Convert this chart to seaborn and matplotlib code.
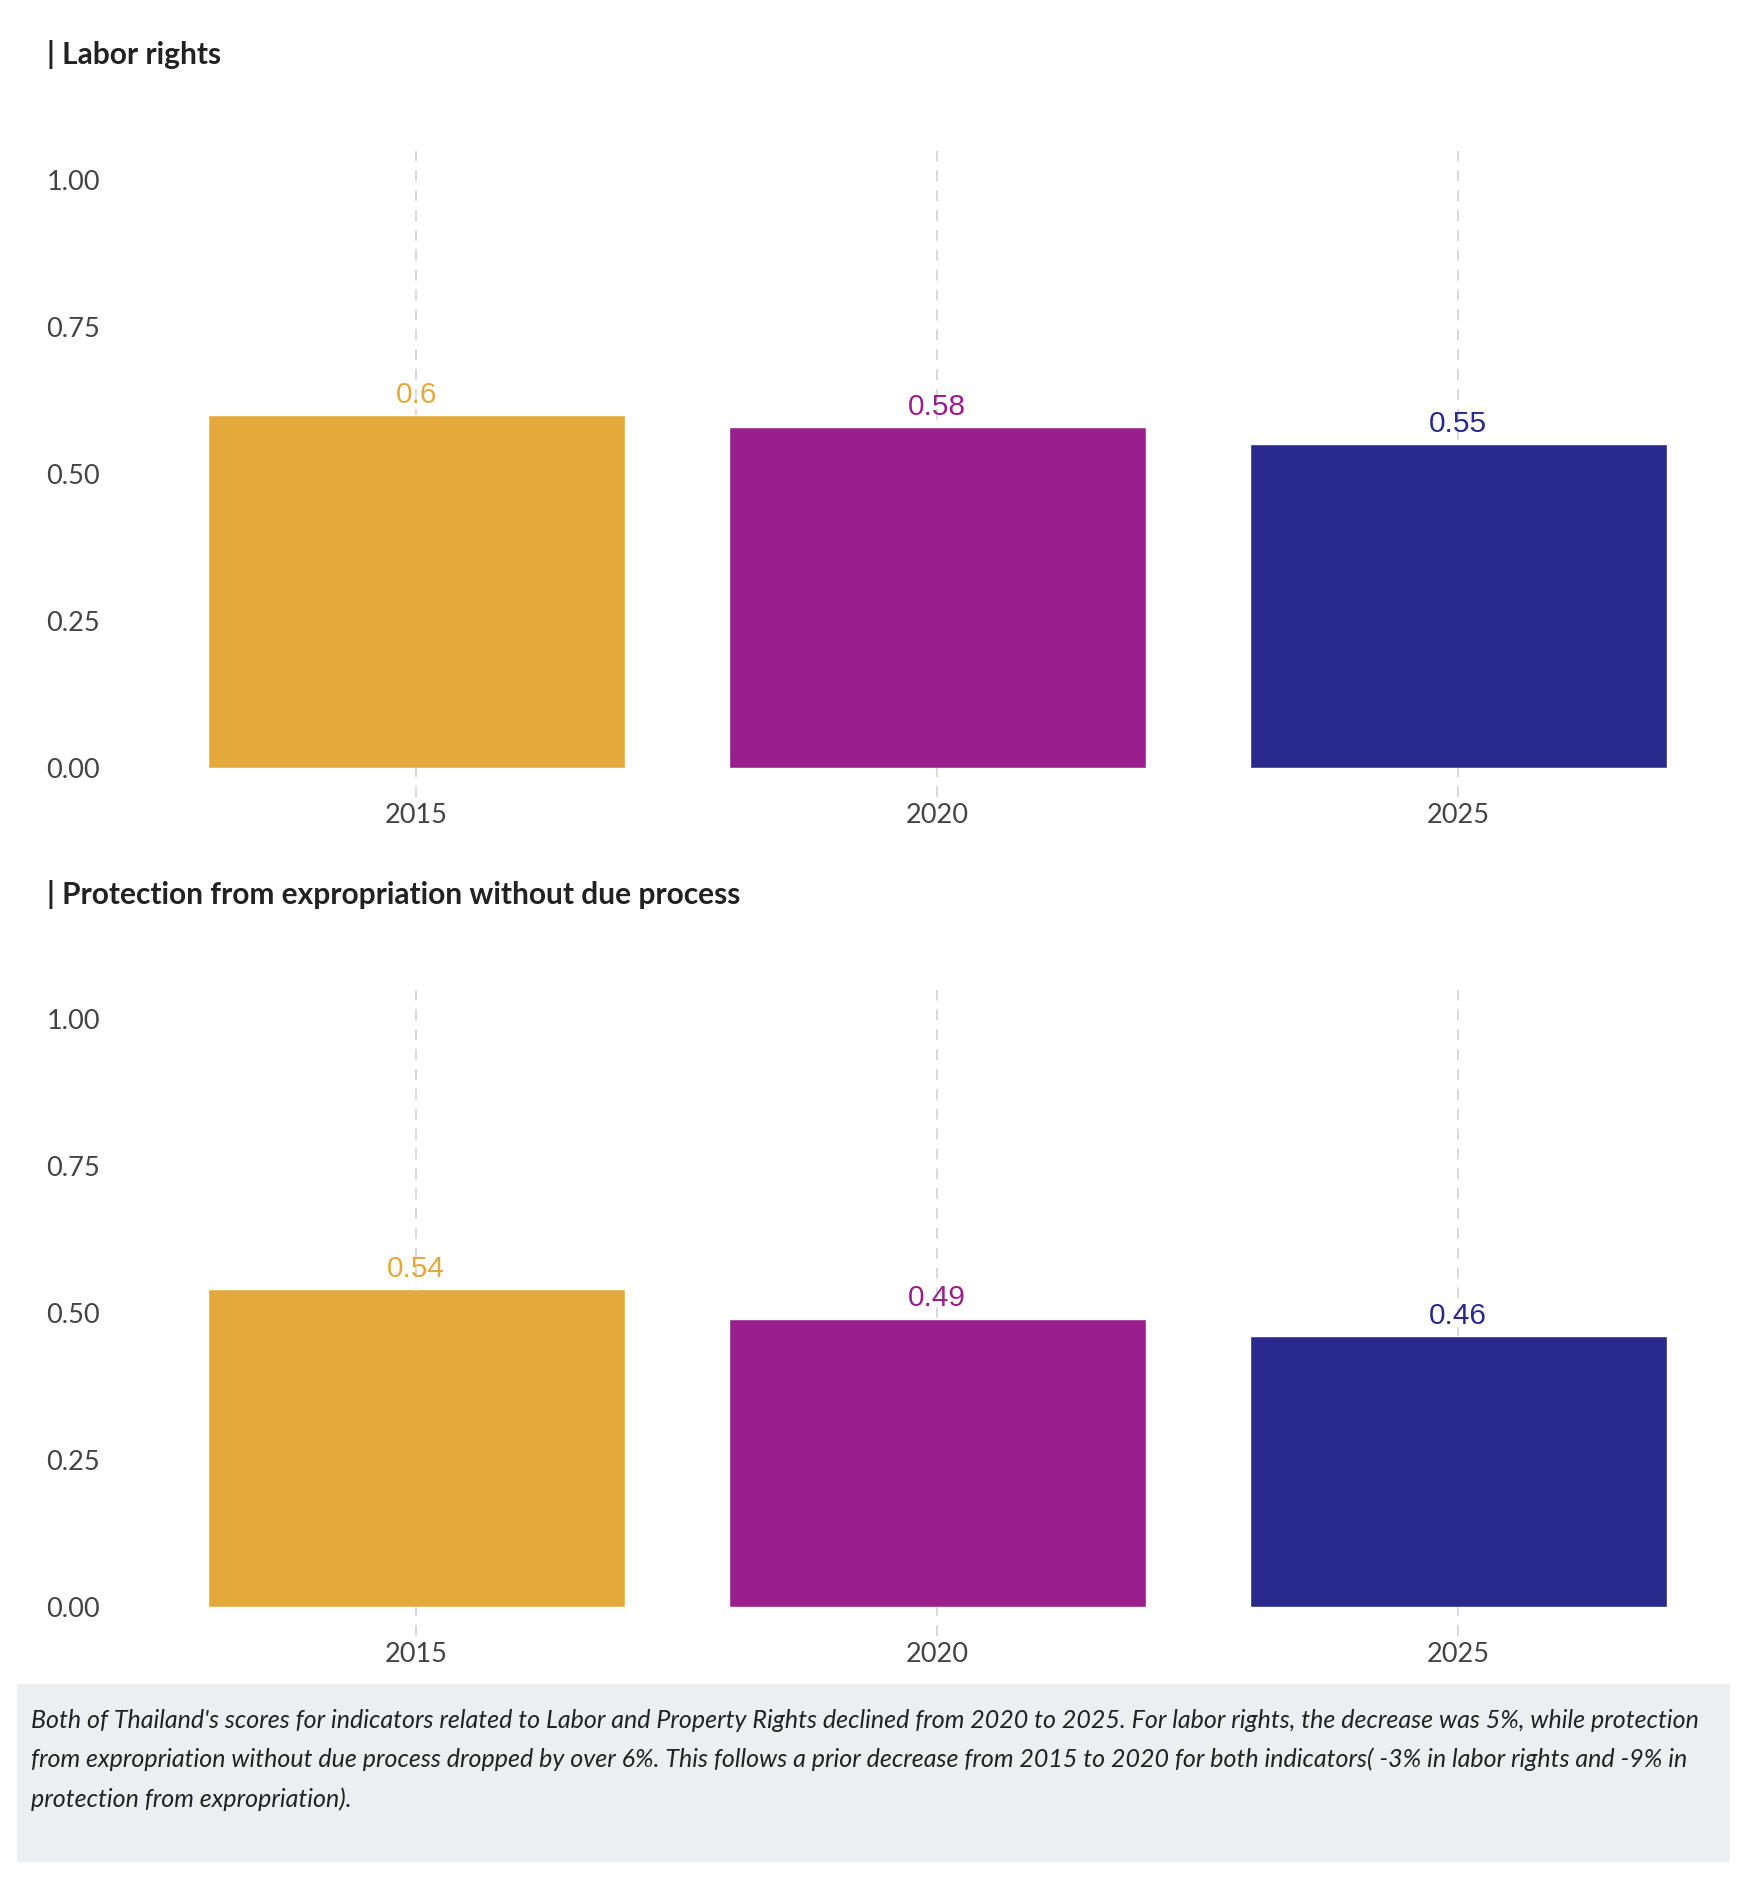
import matplotlib
matplotlib.use("Agg")
import matplotlib.pyplot as plt
import seaborn as sns
import pandas as pd

years = ["2015", "2020", "2025"]
labor_rights = [0.60, 0.58, 0.55]
expropriation = [0.54, 0.49, 0.46]
bar_colors = ["#E3AA3B", "#9B1E8F", "#292A8B"]
titles = ["| Labor rights", "| Protection from expropriation without due process"]
y_ticks = [0.0, 0.25, 0.5, 0.75, 1.0]
note = ("Both of Thailand's scores for indicators related to Labor and Property Rights declined from 2020 to 2025. "
        "For labor rights, the decrease was 5%, while protection\n"
        "from expropriation without due process dropped by over 6%. This follows a prior decrease from 2015 to 2020 "
        "for both indicators( -3% in labor rights and -9% in\n"
        "protection from expropriation).")

sns.set_style("white")
plt.rcParams["font.family"] = ["Lato", "DejaVu Sans"]

fig = plt.figure(figsize=(17.58, 18.78), dpi=100)

# axes boxes in figure fractions: [left, bottom, width, height]
boxes = [[0.0886, 0.5912, 0.8891, 0.3286],
         [0.0886, 0.1445, 0.8891, 0.3286]]
title_y = [0.9658, 0.5185]

for i, values in enumerate([labor_rights, expropriation]):
    df = pd.DataFrame({"year": years, "score": values})
    ax = fig.add_axes(boxes[i])
    sns.barplot(data=df, x="year", y="score", hue="year", palette=bar_colors,
                legend=False, width=0.8, saturation=1, ax=ax, zorder=2)
    ax.set_ylim(0, 1.05)
    ax.set_xlim(-0.5, 2.5)
    ax.set_yticks(y_ticks)
    ax.set_yticklabels([f"{t:.2f}" for t in y_ticks])
    ax.set_xlabel("")
    ax.set_ylabel("")
    for s in ax.spines.values():
        s.set_visible(False)
    ax.grid(False)
    # dashed guide lines, running a bit below the baseline like tick marks
    for xpos in range(len(years)):
        ax.plot([xpos, xpos], [-0.05, 1.05], color="#d5d5d5", lw=1.3,
                ls=(0, (6, 5)), zorder=1, clip_on=False)
    ax.tick_params(axis="y", length=0, pad=40, labelsize=19.5, labelcolor="#444444")
    ax.tick_params(axis="x", length=0, pad=25.5, labelsize=19.5, labelcolor="#444444")
    for container, col in zip(ax.containers, bar_colors):
        ax.bar_label(container, labels=[f"{v:g}" for v in container.datavalues],
                     padding=4.5, color=col, fontsize=21.5,
                     family=["Liberation Sans", "DejaVu Sans"])
    fig.text(0.0266, title_y[i], titles[i], fontsize=21.5, fontweight="bold",
             color="#222222", va="baseline", ha="left")

# note box at the bottom
fig.patches.append(plt.Rectangle((0.0097, 0.0085), 0.9744, 0.0948, transform=fig.transFigure,
                                 facecolor="#ECEEF1", edgecolor="none"))
fig.text(0.0176, 0.0630, note, fontsize=18.0, style="italic", color="#222222",
         va="center", ha="left", linespacing=1.82)

fig.savefig("out.png", dpi=100, facecolor="white")
